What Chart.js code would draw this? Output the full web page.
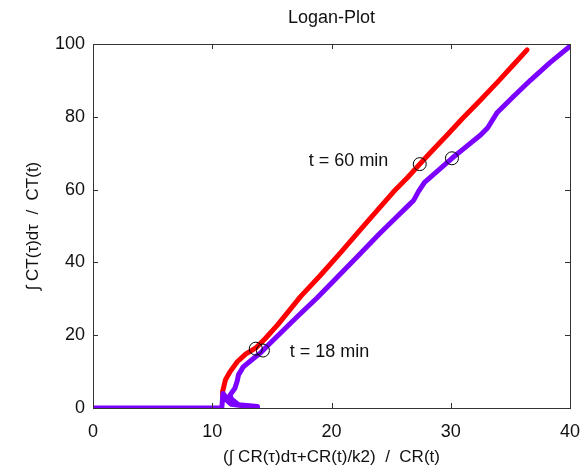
<!DOCTYPE html>
<html>
<head>
<meta charset="utf-8">
<title>Logan-Plot</title>
<script src="https://cdn.jsdelivr.net/npm/chart.js@4"></script>
<style>
    html, body { margin: 0; padding: 0; background: #fff; }
    #wrap { width: 585px; height: 474px; }
</style>
</head>
<body>
<div id="wrap"><canvas id="loganChart" width="585" height="474"></canvas></div>
<script>
// Logan plot curves (x = normalised integral of reference, y = normalised integral of target)
const purpleX = [0, 10.8, 10.9, 11.4, 11.0, 11.6, 12.6, 13.8, 12.2, 11.6, 11.5, 11.9, 12.1, 12.2, 12.6, 13.3,
    14.0, 14.7, 15.6, 17.1, 18.8, 20.5, 22.2, 24.0, 25.5, 26.5, 26.9, 27.3, 27.8, 29.0, 30.1, 31.3, 32.5,
    33.1, 33.9, 35.3, 36.7, 38.3, 40.0];
const purpleY = [0, 0, 4.0, 2.0, 2.8, 1.0, 0.6, 0.4, 0.9, 2.5, 3.6, 5.4, 7.5, 9.1, 11.3, 13.2,
    15.0, 17.3, 20.2, 25.0, 30.3, 36.0, 41.7, 47.8, 52.6, 55.8, 57.1, 59.5, 62.0, 65.4, 68.6, 71.8, 75.0,
    77.0, 81.2, 85.7, 90.1, 94.8, 99.4];

const redX = [10.9, 10.87, 11.1, 11.5, 12.1, 12.8, 13.65, 14.45, 15.5, 17.4, 19.0, 20.8, 22.3, 23.6, 25.2,
    26.4, 27.4, 28.3, 29.7, 31.0, 32.5, 34.0, 35.2, 36.4];
const redY = [2.8, 4.5, 7.7, 10.0, 12.7, 14.8, 16.5, 19.1, 22.9, 30.6, 36.2, 42.8, 48.5, 53.4, 59.4,
    63.4, 67.0, 70.2, 75.0, 79.6, 84.6, 89.8, 94.1, 98.4];

// frames marking t = 18 min and t = 60 min on both curves
const markX = [13.65, 14.25, 27.4, 30.1];
const markY = [16.3, 15.8, 67.0, 68.6];

const notes = [
    { text: 't = 60 min', x: 18.1, y: 67.9 },
    { text: 't = 18 min', x: 16.5, y: 15.4 }
];

const xTicks = [0, 10, 20, 30, 40];
const yTicks = [0, 20, 40, 60, 80, 100];

const FONT = '"Liberation Sans", Arial, Helvetica, sans-serif';

function toPoints(xs, ys) {
    return xs.map((x, i) => ({ x: x, y: ys[i] }));
}

// box around the plot with inward ticks on all four sides, plus title and notes
const framePlugin = {
    id: 'frame',
    afterDatasetsDraw(chart) {
        const ctx = chart.ctx;
        const area = chart.chartArea;
        const xs = chart.scales.x, ys = chart.scales.y;
        const tick = 5;

        ctx.save();
        ctx.strokeStyle = '#333';
        ctx.lineWidth = 1;
        ctx.strokeRect(Math.round(area.left) + 0.5, Math.round(area.top) + 0.5,
            Math.round(area.right - area.left), Math.round(area.bottom - area.top));

        ctx.beginPath();
        xTicks.forEach(v => {
            const px = Math.round(xs.getPixelForValue(v)) + 0.5;
            ctx.moveTo(px, area.bottom); ctx.lineTo(px, area.bottom - tick);
            ctx.moveTo(px, area.top); ctx.lineTo(px, area.top + tick);
        });
        yTicks.forEach(v => {
            const py = Math.round(ys.getPixelForValue(v)) + 0.5;
            ctx.moveTo(area.left, py); ctx.lineTo(area.left + tick, py);
            ctx.moveTo(area.right, py); ctx.lineTo(area.right - tick, py);
        });
        ctx.stroke();

        ctx.fillStyle = '#111';
        ctx.font = '18px ' + FONT;
        ctx.textBaseline = 'middle';
        ctx.textAlign = 'left';
        notes.forEach(n => {
            ctx.fillText(n.text, xs.getPixelForValue(n.x), ys.getPixelForValue(n.y));
        });

        ctx.textAlign = 'center';
        ctx.fillText('Logan-Plot', (area.left + area.right) / 2, 18);
        ctx.restore();
    }
};

const ctx = document.getElementById('loganChart').getContext('2d');
const loganChart = new Chart(ctx, {
    type: 'scatter',
    data: {
        datasets: [
            {
                label: 'markers',
                data: toPoints(markX, markY),
                showLine: false,
                pointRadius: 6.5,
                pointBorderWidth: 1,
                pointBorderColor: '#000',
                pointBackgroundColor: 'rgba(0,0,0,0)',
                order: 0
            },
            {
                label: 'purple',
                data: toPoints(purpleX, purpleY),
                showLine: true,
                borderColor: '#7b00ff',
                borderWidth: 5,
                borderJoinStyle: 'round',
                borderCapStyle: 'round',
                pointRadius: 0,
                tension: 0,
                order: 1
            },
            {
                label: 'red',
                data: toPoints(redX, redY),
                showLine: true,
                borderColor: '#ff0000',
                borderWidth: 5,
                borderJoinStyle: 'round',
                borderCapStyle: 'round',
                pointRadius: 0,
                tension: 0,
                order: 2
            }
        ]
    },
    options: {
        responsive: false,
        animation: false,
        events: [],
        layout: { padding: { top: 44, right: 15, left: 0, bottom: 0 } },
        plugins: {
            legend: { display: false },
            tooltip: { enabled: false },
            title: { display: false }
        },
        scales: {
            x: {
                type: 'linear',
                min: 0,
                max: 40,
                afterFit(scale) {
                    scale.height = 66;
                    scale.paddingLeft = 0;
                    scale.paddingRight = 0;
                },
                afterBuildTicks(scale) { scale.ticks = xTicks.map(v => ({ value: v })); },
                grid: { display: false, drawTicks: false },
                border: { display: false },
                ticks: {
                    padding: 13,
                    color: '#111',
                    font: { family: FONT, size: 18 },
                    maxRotation: 0
                },
                title: {
                    display: true,
                    text: '(\u222B CR(\u03C4)d\u03C4+CR(t)/k2)  /  CR(t)',
                    color: '#111',
                    font: { family: FONT, size: 17 },
                    padding: { top: 0, bottom: 6 }
                }
            },
            y: {
                type: 'linear',
                min: 0,
                max: 100,
                afterFit(scale) {
                    scale.width = 93;
                    scale.paddingTop = 0;
                    scale.paddingBottom = 0;
                },
                afterBuildTicks(scale) { scale.ticks = yTicks.map(v => ({ value: v })); },
                grid: { display: false, drawTicks: false },
                border: { display: false },
                ticks: {
                    padding: 8,
                    color: '#111',
                    font: { family: FONT, size: 18 }
                },
                title: {
                    display: true,
                    text: '\u222B CT(\u03C4)d\u03C4  /  CT(t)',
                    color: '#111',
                    font: { family: FONT, size: 17 },
                    padding: { top: 23, bottom: 0 }
                }
            }
        }
    },
    plugins: [framePlugin]
});
</script>
</body>
</html>
